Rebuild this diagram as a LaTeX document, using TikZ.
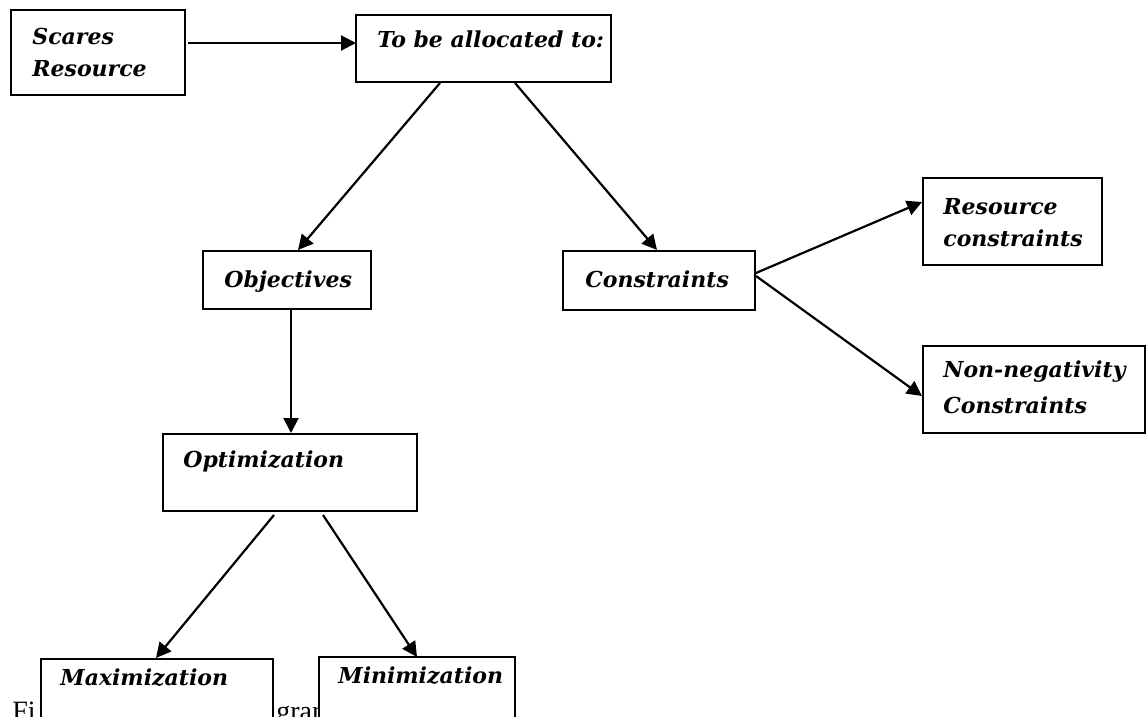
\documentclass[tikz,border=0pt]{standalone}
\usepackage{fontspec}
\setmainfont{Liberation Serif}
\newfontfamily\lblfont{DejaVu Serif}
\usetikzlibrary{arrows.meta,calc}
\tikzset{
  box/.style={draw=black, line width=1.15pt, fill=white, rectangle, inner sep=0pt, outer sep=0pt, anchor=north west},
  lbl/.style={anchor=base west, inner sep=0pt, font=\lblfont\bfseries\itshape\fontsize{11}{14}\selectfont},
  captext/.style={anchor=base west, inner sep=0pt, font=\fontsize{14}{16}\selectfont},
  arr/.style={line width=1.1pt, -{Triangle[length=7.5pt,width=7.5pt]}},
}
\begin{document}
\begin{tikzpicture}[x=0.5pt,y=-0.5pt]
\clip (0,0) rectangle (1147,717);
\fill[white] (0,0) rectangle (1147,717);
% caption fragments (partly hidden behind boxes)
\node[captext] (capa) at (12,720) {Fi};
\node[captext] (capb) at (276,720) {gram};
% boxes
\node[box, minimum width=87pt, minimum height=42.5pt] (scares) at (11,10) {};
\node[box, minimum width=127.5pt, minimum height=33.5pt] (alloc) at (356,15) {};
\node[box, minimum width=84pt, minimum height=29pt] (obj) at (203,251) {};
\node[box, minimum width=96pt, minimum height=29.5pt] (cons) at (563,251) {};
\node[box, minimum width=89.5pt, minimum height=43.5pt] (res) at (923,178) {};
\node[box, minimum width=111pt, minimum height=43.5pt] (nonneg) at (923,346) {};
\node[box, minimum width=127pt, minimum height=38.5pt] (optim) at (163,434) {};
\node[box, minimum width=116pt, minimum height=35pt] (maxi) at (41,659) {};
\node[box, minimum width=98pt, minimum height=35pt] (mini) at (319,657) {};
% labels
\node[lbl] (t1a) at (32,45) {Scares};
\node[lbl] (t1b) at (32,77) {Resource};
\node[lbl] (t2) at (377,48) {To be allocated to:};
\node[lbl] (t3) at (224,287) {Objectives};
\node[lbl] (t4) at (585,287) {Constraints};
\node[lbl] (t5a) at (943,214) {Resource};
\node[lbl] (t5b) at (943,247) {constraints};
\node[lbl] (t6a) at (943,377) {Non-negativity};
\node[lbl] (t6b) at (943,413) {Constraints};
\node[lbl] (t7) at (183,467) {Optimization};
\node[lbl] (t8) at (60,685) {Maximization};
\node[lbl] (t9) at (338,683) {Minimization};
% connectors
\draw[arr] ($(scares.north east)+(3,33)$) -- ($(alloc.north west)+(0,28)$);
\draw[arr] ($(alloc.south west)+(84,1)$) -- ($(obj.north west)+(95,-1)$);
\draw[arr] ($(alloc.south west)+(159,1)$) -- ($(cons.north west)+(94,-1)$);
\draw[arr] ($(cons.north east)+(1,22)$) -- ($(res.north west)+(-1,24)$);
\draw[arr] ($(cons.north east)+(1,25)$) -- ($(nonneg.north west)+(-1,50)$);
\draw[arr] ($(obj.south west)+(88,0)$) -- ($(optim.north west)+(128,-1)$);
\draw[arr] ($(optim.south west)+(111,4)$) -- ($(maxi.north west)+(115,-1)$);
\draw[arr] ($(optim.south west)+(160,4)$) -- ($(mini.north west)+(98,0)$);
\end{tikzpicture}
\end{document}
